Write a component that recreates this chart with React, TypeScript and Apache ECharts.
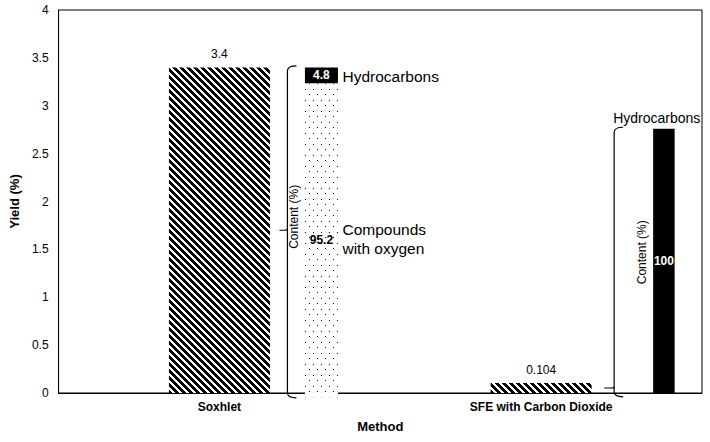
import React, { useEffect, useRef } from "react";
import * as echarts from "echarts";

// ---------- data ----------
const methods = ["Soxhlet", "SFE with Carbon Dioxide"];
const yieldPct = [3.4, 0.104];
const hydrocarbonPct = [4.8, 100];
const oxygenPct = [95.2, 0];
const segmentNames = ["Hydrocarbons", "Compounds\nwith oxygen"];
const yMin = 0;
const yMax = 4;
const yStep = 0.5;
const contentTitle = "Content (%)";
const xTitle = "Method";
const yTitle = "Yield (%)";

// ---------- layout (pixel offsets from category centre, y in yield units) ----------
const LAYOUT = [
  {
    barDx: 85.5, barW: 33, topVal: 3.4, bottomVal: -0.045,
    braceDx: 68, braceBottomVal: -0.05, tickLen: 8,
    captionDx: 75, captionVal: 1.84, labelMode: "side",
  },
  {
    barDx: 112, barW: 21.5, topVal: 2.76, bottomVal: -0.01,
    braceDx: 73, braceBottomVal: -0.04, tickLen: 10,
    captionDx: 100.5, captionVal: 1.47, labelMode: "top",
  },
];

const FONT = '"Liberation Sans", Arial, sans-serif';

function makeTile(w: number, h: number, draw: (ctx: CanvasRenderingContext2D) => void) {
  const c = document.createElement("canvas");
  c.width = w;
  c.height = h;
  const ctx = c.getContext("2d")!;
  ctx.fillStyle = "#fff";
  ctx.fillRect(0, 0, w, h);
  ctx.fillStyle = "#000";
  draw(ctx);
  return c;
}

export default function App() {
  const ref = useRef<HTMLDivElement>(null);

  useEffect(() => {
    document.body.style.margin = "0";
    const hatchCanvas = makeTile(7, 7, (ctx) => {
      for (let y = 0; y < 7; y++)
        for (let x = 0; x < 7; x++)
          if ((((x - y) % 7) + 7) % 7 < 4) ctx.fillRect(x, y, 1, 1);
    });
    const dotCanvas = makeTile(8, 11, (ctx) => {
      ctx.fillRect(1, 1, 1, 1);
      ctx.fillRect(5, 6, 1, 1);
    });
    const hatch: any = { image: hatchCanvas, repeat: "repeat", imageWidth: 7, imageHeight: 7 };
    const dots: any = { image: dotCanvas, repeat: "repeat", imageWidth: 8, imageHeight: 11 };

    const chart = echarts.init(ref.current!, null, { renderer: "svg" });

    const contentData = methods.map((_, i) => [i, hydrocarbonPct[i], oxygenPct[i]]);

    const option: any = {
      animation: false,
      backgroundColor: "#fff",
      textStyle: { fontFamily: FONT, color: "#000" },
      grid: {
        left: 56, right: 8, top: 10, bottom: 49,
        show: true, borderColor: "#000", borderWidth: 1, backgroundColor: "transparent",
      },
      xAxis: {
        type: "category",
        data: methods,
        name: xTitle,
        nameLocation: "middle",
        nameGap: 27,
        nameTextStyle: { fontFamily: FONT, fontWeight: "bold", fontSize: 13, color: "#000" },
        axisLine: { lineStyle: { color: "#000", width: 1 } },
        axisTick: { show: false },
        axisLabel: { fontFamily: FONT, fontWeight: "bold", fontSize: 12, color: "#000", margin: 8 },
        splitLine: { show: false },
      },
      yAxis: {
        type: "value",
        min: yMin,
        max: yMax,
        interval: yStep,
        name: yTitle,
        nameLocation: "middle",
        nameGap: 31,
        nameTextStyle: { fontFamily: FONT, fontWeight: "bold", fontSize: 13, color: "#000" },
        axisLine: { show: true, lineStyle: { color: "#000", width: 1 } },
        axisTick: { show: false },
        axisLabel: { fontFamily: FONT, fontSize: 12, color: "#000", margin: 10 },
        splitLine: { show: false },
      },
      series: [
        {
          type: "bar",
          data: yieldPct,
          barWidth: 101,
          itemStyle: { color: hatch, borderWidth: 0 },
          label: {
            show: true, position: "top", distance: 7,
            fontFamily: FONT, fontSize: 12, color: "#000",
          },
        },
        {
          type: "custom",
          data: contentData,
          encode: { x: 0, y: 1 },
          clip: false,
          z: 3,
          renderItem: (params: any, api: any) => {
            const i = params.dataIndex;
            const L = LAYOUT[i];
            const cat = api.value(0);
            const hyd = api.value(1);
            const oxy = api.value(2);
            const cx = api.coord([cat, 0])[0];
            const yAt = (v: number) => api.coord([cat, v])[1];
            const yTop = yAt(L.topVal);
            const yBot = yAt(L.bottomVal);
            const h = yBot - yTop;
            const total = hyd + oxy;
            const hydH = (h * hyd) / total;
            const xL = cx + L.barDx;
            const xC = xL + L.barW / 2;
            const children: any[] = [];

            // content bar segments
            if (oxy > 0) {
              children.push({
                type: "rect",
                shape: { x: xL, y: yTop + hydH, width: L.barW, height: h - hydH },
                style: { fill: dots, stroke: null },
              });
            }
            if (hyd > 0) {
              children.push({
                type: "rect",
                shape: { x: xL, y: yTop, width: L.barW, height: hydH },
                style: { fill: "#000", stroke: null },
              });
            }

            // value labels inside segments
            const valText = (t: string, y: number, color: string) => ({
              type: "text",
              x: xC,
              y,
              style: {
                text: t, fill: color, font: `bold 12px ${FONT}`,
                align: "center", verticalAlign: "middle",
                textAlign: "center", textVerticalAlign: "middle",
              },
            });
            const hydMid = yTop + hydH / 2;
            const oxyMid = yTop + hydH + (h - hydH) / 2;
            if (hyd > 0) children.push(valText(String(hyd), hydMid, "#fff"));
            if (oxy > 0) children.push(valText(String(oxy), oxyMid, "#000"));

            // segment names
            if (L.labelMode === "side") {
              const sideX = xL + L.barW + 4.5;
              children.push({
                type: "text", x: sideX, y: hydMid + 1,
                style: {
                  text: segmentNames[0], fill: "#000", font: `15.5px ${FONT}`,
                  align: "left", verticalAlign: "middle",
                  textAlign: "left", textVerticalAlign: "middle",
                },
              });
              children.push({
                type: "text", x: sideX, y: oxyMid - 1,
                style: {
                  text: segmentNames[1], fill: "#000", font: `15.5px ${FONT}`,
                  lineHeight: 19,
                  align: "left", verticalAlign: "middle",
                  textAlign: "left", textVerticalAlign: "middle",
                },
              });
            } else {
              children.push({
                type: "text", x: cx + L.braceDx - 1, y: yTop - 11,
                style: {
                  text: segmentNames[0], fill: "#000", font: `14px ${FONT}`,
                  align: "left", verticalAlign: "middle",
                  textAlign: "left", textVerticalAlign: "middle",
                },
              });
            }

            // brace
            const bx = cx + L.braceDx;
            const bTop = yTop - 1.5;
            const bBot = yAt(L.braceBottomVal);
            const bMid = yAt(yieldPct[i] / 2);
            const tl = L.tickLen;
            const d =
              `M ${bx + 9} ${bTop} Q ${bx} ${bTop} ${bx} ${bTop + 5} ` +
              `L ${bx} ${bBot - 5} Q ${bx} ${bBot} ${bx + 9} ${bBot} ` +
              `M ${bx - tl} ${bMid} L ${bx - 2} ${bMid} Q ${bx} ${bMid} ${bx} ${bMid - 2}`;
            children.push({
              type: "path",
              shape: { pathData: d },
              style: { fill: "none", stroke: "#000", lineWidth: 1.2 },
            });

            // rotated caption
            children.push({
              type: "text",
              x: cx + L.captionDx,
              y: yAt(L.captionVal),
              rotation: Math.PI / 2,
              style: {
                text: contentTitle, fill: "#000", font: `12px ${FONT}`,
                align: "center", verticalAlign: "middle",
                textAlign: "center", textVerticalAlign: "middle",
              },
            });

            return { type: "group", children };
          },
        },
      ],
    };

    chart.setOption(option);
    return () => chart.dispose();
  }, []);

  return <div ref={ref} style={{ width: 710, height: 442 }} />;
}
